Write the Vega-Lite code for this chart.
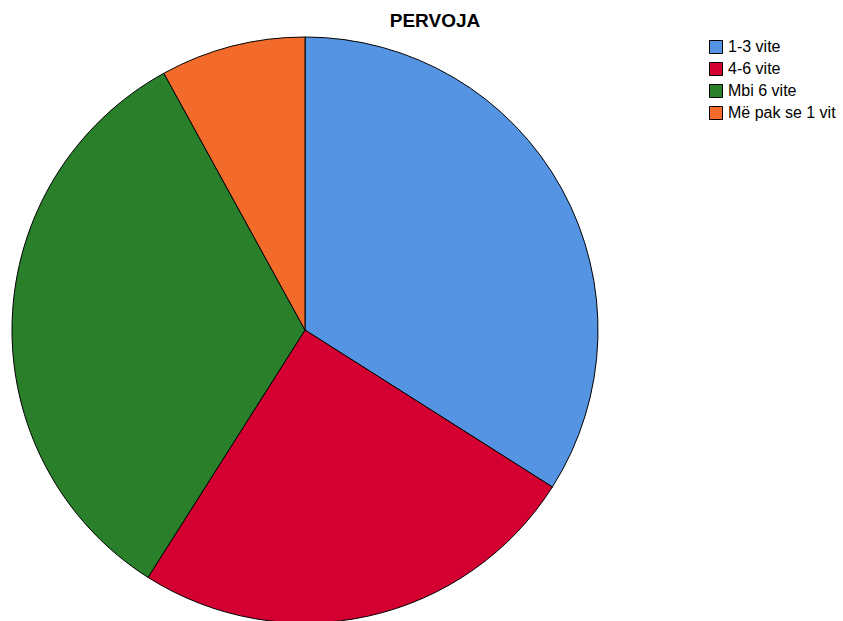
{
  "$schema": "https://vega.github.io/schema/vega-lite/v6.json",
  "width": 588,
  "height": 588,
  "autosize": {"type": "none"},
  "padding": {"left": 11, "top": 36, "right": 244, "bottom": 0},
  "background": "white",
  "title": {"text": "PERVOJA", "fontSize": 19, "font": "Liberation Sans", "fontWeight": "bold", "color": "#000000", "dx": 130, "offset": 4, "anchor": "middle"},
  "data": {"values": [
    {"category": "1-3 vite", "count": 34, "ord": 1},
    {"category": "4-6 vite", "count": 25, "ord": 2},
    {"category": "Mbi 6 vite", "count": 33, "ord": 3},
    {"category": "Më pak se 1 vit", "count": 8, "ord": 4}
  ]},
  "mark": {"type": "arc", "outerRadius": 293, "stroke": "#000000", "strokeWidth": 1},
  "encoding": {
    "theta": {"field": "count", "type": "quantitative", "stack": true},
    "order": {"field": "ord", "type": "quantitative"},
    "color": {
      "field": "category",
      "type": "nominal",
      "scale": {"domain": ["1-3 vite", "4-6 vite", "Mbi 6 vite", "Më pak se 1 vit"], "range": ["#5594E3", "#D50032", "#2A7F2A", "#F26B2A"]},
      "legend": {
        "title": null,
        "orient": "none",
        "legendX": 697,
        "legendY": 3,
        "symbolType": "square",
        "symbolSize": 169,
        "symbolStrokeColor": "#000000",
        "symbolStrokeWidth": 1,
        "labelFont": "Liberation Sans",
        "labelFontSize": 16,
        "labelColor": "#000000",
        "rowPadding": 4,
        "labelOffset": 4
      }
    }
  }
}
